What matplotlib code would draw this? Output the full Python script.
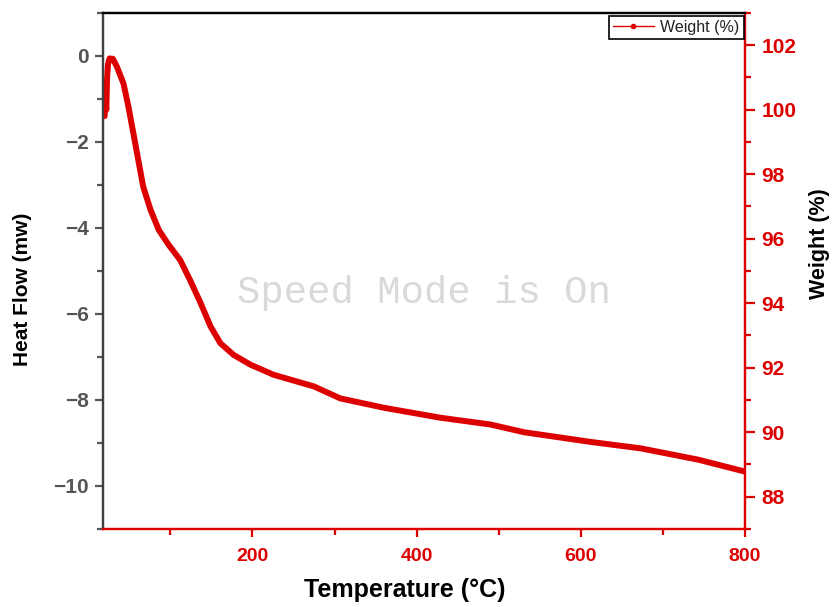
import matplotlib
matplotlib.use("Agg")
import matplotlib.pyplot as plt
from matplotlib.lines import Line2D
from matplotlib.ticker import MultipleLocator

plt.rcParams['font.family'] = ['Liberation Sans', 'DejaVu Sans']

# TGA curve: temperature (°C) vs. remaining weight (%)
temperature = [20, 21, 22, 23, 24, 26, 30, 35, 43, 49, 55, 61, 67, 76, 86,
               98, 112, 124, 137, 149, 161, 177, 198, 226, 275, 307, 360,
               429, 490, 531, 612, 673, 743, 800]
weight = [99.8, 100.6, 100.0, 101.0, 101.4, 101.59, 101.58, 101.33, 100.81,
          100.09, 99.27, 98.44, 97.61, 96.89, 96.27, 95.81, 95.34, 94.72,
          94.0, 93.28, 92.76, 92.40, 92.09, 91.78, 91.42, 91.05, 90.76,
          90.45, 90.24, 90.0, 89.7, 89.5, 89.15, 88.78]

RED = '#dd0000'
GRAY = '#555555'

fig = plt.figure(figsize=(8.34, 6.07), dpi=100)
ax = fig.add_axes([0.1235, 0.1285, 0.7698, 0.8501])
ax2 = ax.twinx()

ax2.plot(temperature, weight, color=RED, lw=4.3, solid_capstyle='round',
         solid_joinstyle='round')

ax.set_xlim(18, 800)
ax.set_ylim(-11, 1)
ax2.set_ylim(87, 103)

ax.xaxis.set_major_locator(MultipleLocator(200))
ax.xaxis.set_minor_locator(MultipleLocator(100))
ax.yaxis.set_major_locator(MultipleLocator(2))
ax.yaxis.set_minor_locator(MultipleLocator(1))
ax2.yaxis.set_major_locator(MultipleLocator(2))
ax2.yaxis.set_minor_locator(MultipleLocator(1))

# spines
for a in (ax, ax2):
    a.spines['top'].set_color('black')
    a.spines['top'].set_linewidth(1.6)
    a.spines['bottom'].set_color(RED)
    a.spines['bottom'].set_linewidth(1.6)
    a.spines['left'].set_color('#404040')
    a.spines['left'].set_linewidth(1.6)
    a.spines['right'].set_color(RED)
    a.spines['right'].set_linewidth(1.6)

ax.tick_params(axis='x', which='major', direction='out', length=6, width=1.6,
               colors=RED, labelsize=14, pad=8)
ax.tick_params(axis='x', which='minor', direction='out', length=4, width=1.6,
               colors=RED)
ax.tick_params(axis='y', which='major', direction='out', length=6, width=1.6,
               colors=GRAY, labelsize=15, pad=4)
ax.tick_params(axis='y', which='minor', direction='out', length=4, width=1.6,
               colors=GRAY)
ax2.tick_params(axis='y', which='major', direction='out', length=7, width=1.6,
                colors=RED, labelsize=15, pad=5)
ax2.tick_params(axis='y', which='minor', direction='out', length=4, width=1.6,
                colors=RED)

for lab in ax.get_xticklabels() + ax.get_yticklabels() + ax2.get_yticklabels():
    lab.set_fontweight('bold')

ax.set_xlabel('Temperature (°C)', fontsize=18, fontweight='bold', color='black')
ax.set_ylabel('Heat Flow (mw)', fontsize=15, fontweight='bold', color='black')
ax2.set_ylabel('Weight (%)', fontsize=15.5, fontweight='bold', color='black')
ax.xaxis.set_label_coords(0.47, -0.095)
ax.yaxis.set_label_coords(-0.11, 0.465)
ax2.yaxis.set_label_coords(1.099, 0.554)

handle = Line2D([], [], color=RED, lw=1, marker='o', markersize=3)
leg = ax2.legend([handle], ['Weight (%)'], loc='upper right',
                 bbox_to_anchor=(0.998, 0.995), fontsize=11.5, frameon=True,
                 fancybox=False, framealpha=1, edgecolor='black',
                 handlelength=2.6, borderpad=0.25, handletextpad=0.4,
                 borderaxespad=0.0)
leg.get_frame().set_linewidth(1.2)
for t in leg.get_texts():
    t.set_color('#222222')

ax.text(0.50, 0.457, 'Speed Mode is On', transform=ax.transAxes,
        ha='center', va='center', fontsize=28, color='#d9d9d9',
        family='Liberation Mono')

fig.savefig('out.png', dpi=100)
